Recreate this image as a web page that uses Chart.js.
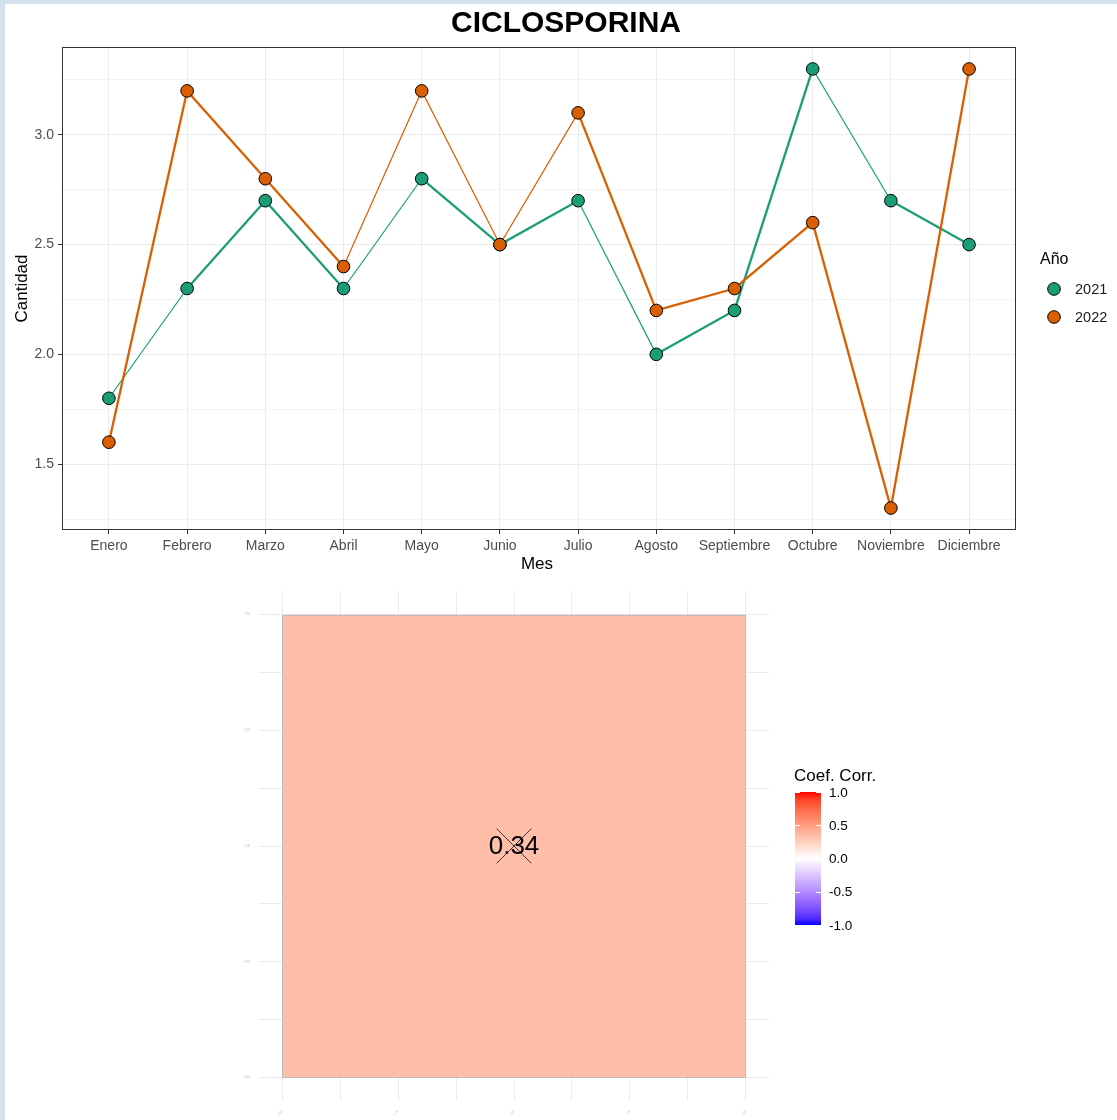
<!DOCTYPE html>
<html>
<head>
<meta charset="utf-8">
<script src="https://cdn.jsdelivr.net/npm/chart.js@4.4.1/dist/chart.umd.min.js"></script>
<style>
  html, body { margin: 0; padding: 0; }
  body { width: 1117px; height: 1120px; background: #d3e0ee; position: relative; overflow: hidden; }
  #sheet { position: absolute; left: 5px; top: 4px; width: 1112px; height: 1116px; background: #ffffff; }
  #top { position: absolute; left: 0; top: 0; }
  #bottom { position: absolute; left: 0; top: 566px; }
</style>
</head>
<body>
<div id="sheet"></div>
<canvas id="top" width="1117" height="585"></canvas>
<canvas id="bottom" width="1117" height="560"></canvas>
<script>
// ---------------- DATA ----------------
const chartTitle = 'CICLOSPORINA';
const months = ['Enero', 'Febrero', 'Marzo', 'Abril', 'Mayo', 'Junio', 'Julio', 'Agosto', 'Septiembre', 'Octubre', 'Noviembre', 'Diciembre'];
const seriesNames = ['2021', '2022'];
const values2021 = [1.8, 2.3, 2.7, 2.3, 2.8, 2.5, 2.7, 2.0, 2.2, 3.3, 2.7, 2.5];
const values2022 = [1.6, 3.2, 2.8, 2.4, 3.2, 2.5, 3.1, 2.2, 2.3, 2.6, 1.3, 3.3];
const yMajorTicks = [1.5, 2.0, 2.5, 3.0];
const yMinorTicks = [1.25, 1.75, 2.25, 2.75, 3.25];
const yTickLabels = ['1.5', '2.0', '2.5', '3.0'];

const corrX = [1];
const corrY = [1];
const corrValues = [0.34];
const corrLabels = ['0.34'];
const corrTickValues = [0.5, 0.75, 1.0, 1.25, 1.5];
const corrTickLabels = ['0.50', '0.75', '1.00', '1.25', '1.50'];
const corrLegendBreaks = [1.0, 0.5, 0.0, -0.5, -1.0];
const corrLegendLabels = ['1.0', '0.5', '0.0', '-0.5', '-1.0'];

// ---------------- STYLE ----------------
const FONT = "'Liberation Sans', Arial, sans-serif";
const colors = ['#1B9E77', '#D95F02'];
const THICK = 2.3, THIN = 1.2;
const segWidths = [
  [THIN, THICK, THICK, THIN, THICK, THICK, THIN, THICK, THICK, THIN, THICK],
  [THICK, THICK, THICK, THIN, THIN, THIN, THICK, THICK, THICK, THICK, THICK]
];

// ---------------- TOP CHART ----------------
const seriesValues = [values2021, values2022];
const lineSets = seriesValues.map((vals, s) => ({
  label: seriesNames[s],
  data: vals.map((v, i) => ({ x: i, y: v })),
  borderColor: colors[s],
  backgroundColor: colors[s],
  pointRadius: 0,
  borderWidth: THIN,
  segment: { borderWidth: ctx => segWidths[s][ctx.p0DataIndex] },
  order: 3 - s,
  tension: 0
}));
const pointSets = seriesValues.map((vals, s) => ({
  label: seriesNames[s] + ' pts',
  data: vals.map((v, i) => ({ x: i, y: v })),
  showLine: false,
  pointRadius: 6.3,
  pointBorderWidth: 1,
  pointBorderColor: '#000000',
  pointBackgroundColor: colors[s],
  order: 1 - s
}));

const topDecor = {
  id: 'topDecor',
  afterDraw(chart) {
    const c = chart.ctx, a = chart.chartArea;
    c.save();
    // panel border
    c.strokeStyle = '#333333';
    c.lineWidth = 1;
    c.strokeRect(Math.round(a.left) + 0.5, Math.round(a.top) + 0.5, Math.round(a.right - a.left) - 1, Math.round(a.bottom - a.top) - 1);
    // title
    c.fillStyle = '#000000';
    c.font = 'bold 30px ' + FONT;
    c.textAlign = 'center';
    c.textBaseline = 'middle';
    c.fillText(chartTitle, 566, 24);
    // axis titles
    c.font = '17px ' + FONT;
    c.fillText('Mes', (a.left + a.right) / 2 - 2, 564);
    c.save();
    c.translate(22, (a.top + a.bottom) / 2);
    c.rotate(-Math.PI / 2);
    c.fillText('Cantidad', 0, 0);
    c.restore();
    // legend
    c.textAlign = 'left';
    c.font = '16px ' + FONT;
    c.fillText('Año', 1040, 260);
    c.font = '14.5px ' + FONT;
    seriesNames.forEach((n, i) => {
      const y = 289 + i * 28;
      c.beginPath();
      c.arc(1054, y, 6.3, 0, Math.PI * 2);
      c.fillStyle = colors[i];
      c.fill();
      c.strokeStyle = '#000000';
      c.lineWidth = 1;
      c.stroke();
      c.fillStyle = '#1a1a1a';
      c.fillText(n, 1075, y + 1);
    });
    c.restore();
  }
};

new Chart(document.getElementById('top'), {
  type: 'line',
  data: { datasets: [...lineSets, ...pointSets] },
  options: {
    responsive: false,
    animation: false,
    events: [],
    layout: { padding: { left: 0, top: 47, right: 101, bottom: 0 } },
    plugins: { legend: { display: false }, tooltip: { enabled: false }, title: { display: false } },
    scales: {
      x: {
        type: 'linear',
        min: -0.6,
        max: months.length - 1 + 0.6,
        afterBuildTicks: sc => { sc.ticks = months.map((m, i) => ({ value: i })); },
        afterFit: sc => { sc.height = 55; },
        border: { display: false },
        grid: { color: '#EBEBEB', lineWidth: 1, tickLength: 4, tickColor: '#333333', tickWidth: 1 },
        ticks: {
          autoSkip: false, maxRotation: 0, minRotation: 0, padding: 4,
          color: '#4D4D4D', font: { family: FONT, size: 14 },
          callback: v => months[v]
        }
      },
      y: {
        type: 'linear',
        min: 1.2,
        max: 3.4,
        afterBuildTicks: sc => {
          sc.ticks = [...yMinorTicks, ...yMajorTicks].sort((p, q) => p - q).map(v => ({ value: v }));
        },
        afterFit: sc => { sc.width = 62; },
        border: { display: false },
        grid: {
          color: ctx => (yMajorTicks.includes(ctx.tick && ctx.tick.value) ? '#EBEBEB' : '#F3F3F3'),
          lineWidth: 1,
          tickLength: 4,
          tickColor: ctx => (yMajorTicks.includes(ctx.tick && ctx.tick.value) ? '#333333' : 'rgba(0,0,0,0)'),
          tickWidth: 1
        },
        ticks: {
          autoSkip: false, padding: 4,
          color: '#4D4D4D', font: { family: FONT, size: 14 },
          callback: v => { const k = yMajorTicks.indexOf(v); return k >= 0 ? yTickLabels[k] : ''; }
        }
      }
    }
  },
  plugins: [topDecor]
});

// ---------------- BOTTOM CHART (correlation tile) ----------------
const LAB_RED = [53.24, 80.09, 67.20], LAB_WHITE = [100, 0, 0], LAB_BLUE = [32.30, 79.19, -107.86];
function labToRgb(L, A, B) {
  const fy = (L + 16) / 116, fx = fy + A / 500, fz = fy - B / 200;
  const d = 6 / 29;
  const finv = t => (t > d ? t * t * t : 3 * d * d * (t - 4 / 29));
  const X = 0.95047 * finv(fx), Y = finv(fy), Z = 1.08883 * finv(fz);
  let r = 3.2406 * X - 1.5372 * Y - 0.4986 * Z;
  let g = -0.9689 * X + 1.8758 * Y + 0.0415 * Z;
  let b = 0.0557 * X - 0.2040 * Y + 1.0570 * Z;
  const gam = v => { v = v <= 0.0031308 ? 12.92 * v : 1.055 * Math.pow(v, 1 / 2.4) - 0.055; return Math.max(0, Math.min(255, Math.round(v * 255))); };
  return 'rgb(' + gam(r) + ',' + gam(g) + ',' + gam(b) + ')';
}
function corrColor(v) {
  const end = v >= 0 ? LAB_RED : LAB_BLUE;
  const t = Math.min(1, Math.abs(v));
  return labToRgb(LAB_WHITE[0] + (end[0] - LAB_WHITE[0]) * t, LAB_WHITE[1] + (end[1] - LAB_WHITE[1]) * t, LAB_WHITE[2] + (end[2] - LAB_WHITE[2]) * t);
}

const cellMinor = [];
for (let k = 0; k <= 8; k++) cellMinor.push(0.5 + k * 0.125);

const OFF = 580 - 566; // canvas offset vs. page coordinates used for the legend
const tilePlugin = {
  id: 'tilePlugin',
  beforeDatasetsDraw(chart) {
    const c = chart.ctx, xs = chart.scales.x, ys = chart.scales.y;
    c.save();
    corrValues.forEach((v, i) => {
      const x0 = xs.getPixelForValue(corrX[i] - 0.5), x1 = xs.getPixelForValue(corrX[i] + 0.5);
      const y0 = ys.getPixelForValue(corrY[i] + 0.5), y1 = ys.getPixelForValue(corrY[i] - 0.5);
      c.fillStyle = corrColor(v);
      c.fillRect(x0, y0, x1 - x0, y1 - y0);
      c.strokeStyle = '#BDBDBD';
      c.lineWidth = 1;
      c.strokeRect(Math.round(x0) + 0.5, Math.round(y0) + 0.5, Math.round(x1 - x0) - 1, Math.round(y1 - y0) - 1);
    });
    c.restore();
  },
  afterDraw(chart) {
    const c = chart.ctx, xs = chart.scales.x, ys = chart.scales.y;
    c.save();
    // cell labels
    c.fillStyle = '#000000';
    c.font = '26px ' + FONT;
    c.textAlign = 'center';
    c.textBaseline = 'middle';
    corrValues.forEach((v, i) => {
      c.fillText(corrLabels[i], xs.getPixelForValue(corrX[i]), ys.getPixelForValue(corrY[i]) + 1);
    });
    // colour bar legend
    const bx = 795, bw = 26, bTop = 212 + OFF, bBot = 345 + OFF;
    c.textAlign = 'left';
    c.font = '17px ' + FONT;
    c.fillStyle = '#000000';
    c.fillText('Coef. Corr.', 794, 196 + OFF);
    const grad = c.createLinearGradient(0, bTop, 0, bBot);
    for (let k = 0; k <= 20; k++) {
      const v = 1 - k / 10;
      grad.addColorStop(k / 20, corrColor(v));
    }
    c.fillStyle = grad;
    c.fillRect(bx, bTop, bw, bBot - bTop);
    c.strokeStyle = '#ffffff';
    c.lineWidth = 1;
    c.font = '13.5px ' + FONT;
    corrLegendBreaks.forEach((v, k) => {
      const y = bTop + (1 - v) / 2 * (bBot - bTop);
      const yy = Math.round(y) + 0.5;
      c.beginPath();
      c.moveTo(bx, yy); c.lineTo(bx + 5, yy);
      c.moveTo(bx + bw - 5, yy); c.lineTo(bx + bw, yy);
      c.stroke();
      c.fillStyle = '#000000';
      c.fillText(corrLegendLabels[k], 829, y + 1);
    });
    c.restore();
  }
};

new Chart(document.getElementById('bottom'), {
  type: 'scatter',
  data: {
    datasets: [{
      label: 'corr',
      data: corrX.map((x, i) => ({ x: x, y: corrY[i] })),
      pointStyle: 'crossRot',
      pointRadius: 24.5,
      pointBorderColor: '#3a3a3a',
      pointBorderWidth: 1,
      pointBackgroundColor: 'rgba(0,0,0,0)'
    }]
  },
  options: {
    responsive: false,
    animation: false,
    events: [],
    layout: { padding: { left: 0, top: 25, right: 348, bottom: 0 } },
    plugins: { legend: { display: false }, tooltip: { enabled: false } },
    scales: {
      x: {
        type: 'linear', min: 0.45, max: 1.55,
        afterBuildTicks: sc => { sc.ticks = cellMinor.map(v => ({ value: v })); },
        afterFit: sc => { sc.height = 19; },
        border: { display: false },
        grid: { color: '#EBEBEB', lineWidth: 1, drawTicks: false },
        ticks: {
          autoSkip: false, maxRotation: 45, minRotation: 45, padding: 9,
          color: '#B4B4B4', font: { family: FONT, size: 3 },
          callback: v => { const k = corrTickValues.indexOf(v); return k >= 0 ? corrTickLabels[k] : ''; }
        }
      },
      y: {
        type: 'linear', min: 0.45, max: 1.55,
        afterBuildTicks: sc => { sc.ticks = cellMinor.map(v => ({ value: v })); },
        afterFit: sc => { sc.width = 259; },
        border: { display: false },
        grid: { color: '#EBEBEB', lineWidth: 1, drawTicks: false },
        ticks: {
          autoSkip: false, padding: 9,
          color: '#B4B4B4', font: { family: FONT, size: 3 },
          callback: v => { const k = corrTickValues.indexOf(v); return k >= 0 ? corrTickLabels[k] : ''; }
        }
      }
    }
  },
  plugins: [tilePlugin]
});
</script>
</body>
</html>
